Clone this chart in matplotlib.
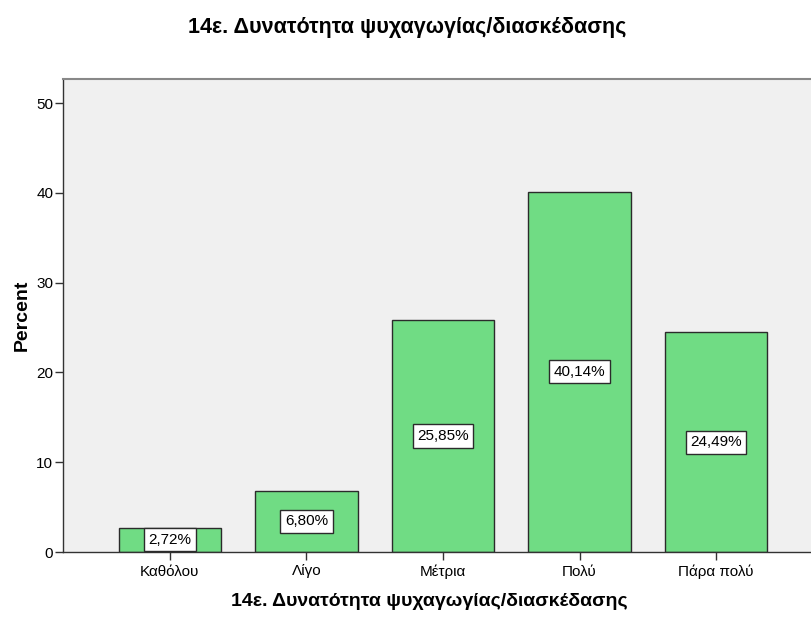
import matplotlib
matplotlib.use("Agg")
import matplotlib.pyplot as plt

categories = ["Καθόλου", "Λίγο", "Μέτρια", "Πολύ", "Πάρα πολύ"]
percents = [2.72, 6.80, 25.85, 40.14, 24.49]
labels = ["2,72%", "6,80%", "25,85%", "40,14%", "24,49%"]
yticks = [0, 10, 20, 30, 40, 50]
title = "14ε. Δυνατότητα ψυχαγωγίας/διασκέδασης"

plt.rcParams['font.family'] = ['Liberation Sans', 'DejaVu Sans']

fig = plt.figure(figsize=(8.12, 6.18), dpi=100)
fig.patch.set_facecolor("white")
ax = fig.add_axes([63/812, 66/618, 760/812, 473/618])
ax.set_facecolor("#F0F0F0")

x = list(range(len(categories)))
ax.bar(x, percents, width=0.75, color="#70DC84", edgecolor="#2b2b2b", linewidth=1.0, zorder=2)
for xi, v, lab in zip(x, percents, labels):
    ax.text(xi, v / 2, lab, ha="center", va="center", fontsize=11, color="black", zorder=3,
            bbox=dict(boxstyle="square,pad=0.3", facecolor="white", edgecolor="#2b2b2b", linewidth=1.0))

ax.set_xlim(-0.783, 4.783)
ax.set_ylim(0, 52.7)
ax.set_yticks(yticks)
ax.set_xticks(x)
ax.set_xticklabels(categories, fontsize=11)
ax.tick_params(axis="y", labelsize=11, length=6, width=1, direction="out", color="#333333", pad=1)
ax.tick_params(axis="x", length=6, width=1, direction="out", color="#333333", pad=3)

for s in ["left", "bottom"]:
    ax.spines[s].set_color("#333333")
    ax.spines[s].set_linewidth(1.0)
ax.spines["top"].set_color("#888888")
ax.spines["top"].set_linewidth(1.5)
ax.spines["right"].set_visible(False)

ax.set_ylabel("Percent", fontsize=14, fontweight="bold", labelpad=4)
ax.set_xlabel(title, fontsize=14, fontweight="bold")
ax.xaxis.set_label_coords((429 - 63) / 760, -(602 - 552) / 473)
ax.xaxis.label.set_verticalalignment("center")
fig.text(407/812, 1 - 28/618, title, ha="center", va="center", fontsize=15.5, fontweight="bold")

fig.savefig("out.png", dpi=100)
